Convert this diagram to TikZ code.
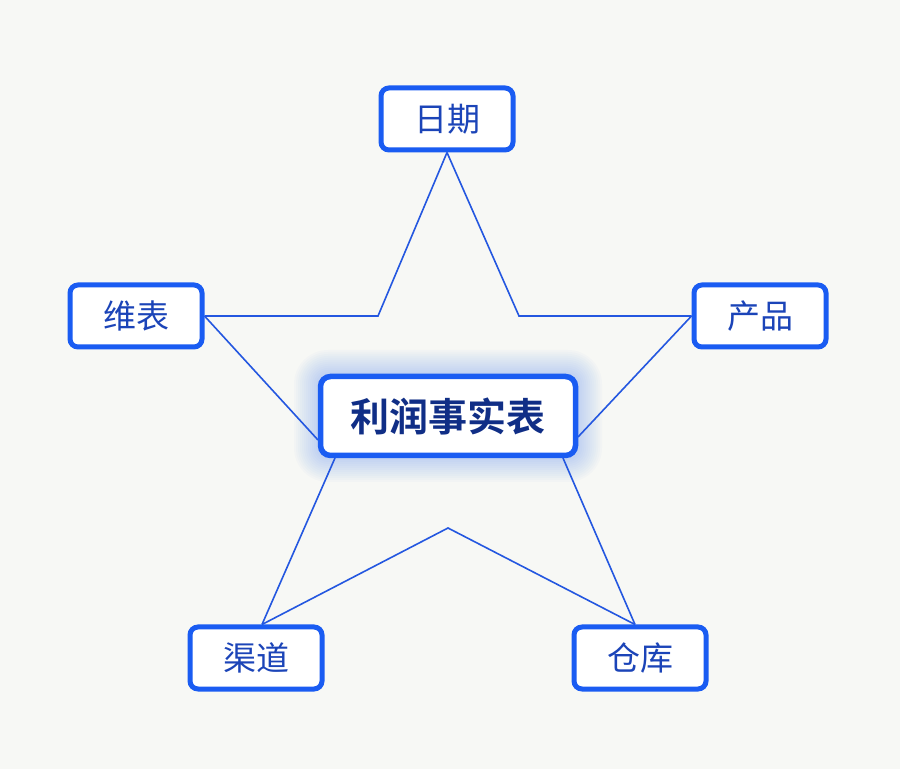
\documentclass[tikz,border=0pt]{standalone}
\usepackage{fontspec}
\usetikzlibrary{calc}
\newfontfamily\cjk{Noto Sans CJK SC}
\newfontfamily\cjkbold{Noto Sans CJK SC Bold}
\definecolor{bg}{HTML}{F7F8F5}
\definecolor{boxblue}{HTML}{1A5CF2}
\definecolor{txtblue}{HTML}{1B44B8}
\definecolor{navy}{HTML}{102E86}
\definecolor{lineblue}{HTML}{2457E0}
\pgfdeclarelayer{bglayer}
\pgfdeclarelayer{linelayer}
\pgfsetlayers{bglayer,linelayer,main}
\begin{document}
\begin{tikzpicture}[x=1pt,y=1pt,
  dim/.style={draw=boxblue, line width=5pt, fill=white, rounded corners=8pt,
    minimum width=132pt, minimum height=62pt, inner sep=0pt,
    font=\cjk\fontsize{33}{33}\selectfont, text=txtblue},
  fact/.style={draw=boxblue, line width=5.5pt, fill=white, rounded corners=10pt,
    minimum width=255pt, minimum height=79pt, inner sep=0pt,
    font=\cjkbold\fontsize{39}{39}\selectfont, text=navy},
  conn/.style={draw=lineblue, line width=1.6pt, line join=miter}]
\begin{pgfonlayer}{bglayer}
\fill[bg] (0,0) rectangle (900,769);
\foreach \r in {24,22,...,2}{
  \fill[boxblue, opacity=0.018, rounded corners=10pt+\r pt]
    (318-\r,311-\r) rectangle (578+\r,395+\r);
}
\end{pgfonlayer}
\useasboundingbox (0,0) rectangle (900,769);
% nodes
\node[dim] (riqi) at (447,650) {日期};
\node[dim] (weibiao) at (136,453) {维表};
\node[dim] (chanpin) at (760,453) {产品};
\node[dim] (qudao) at (256,111) {渠道};
\node[dim] (cangku) at (640,111) {仓库};
\node[fact] (ft) at (448,353) {利润事实表};
% bend points of the star
\coordinate (bl) at (378,453);
\coordinate (br) at (519,453);
\coordinate (bb) at (448,241);
\coordinate (fl) at (318,329);
\coordinate (fr) at (578,332);
\coordinate (fbl) at (335,311);
\coordinate (fbr) at (563,311);
\coordinate (qt) at ($(qudao.north)+(6,0)$);
\coordinate (ct) at ($(cangku.north)+(-5,0)$);
\begin{pgfonlayer}{linelayer}
\draw[conn] (riqi.south) -- (bl) -- (weibiao.east);
\draw[conn] (riqi.south) -- (br) -- (chanpin.west);
\draw[conn] (weibiao.east) -- (fl);
\draw[conn] (chanpin.west) -- (fr);
\draw[conn] (fbl) -- (qt);
\draw[conn] (fbr) -- (ct);
\draw[conn] (qt) -- (bb) -- (ct);
\end{pgfonlayer}
\end{tikzpicture}
\end{document}
